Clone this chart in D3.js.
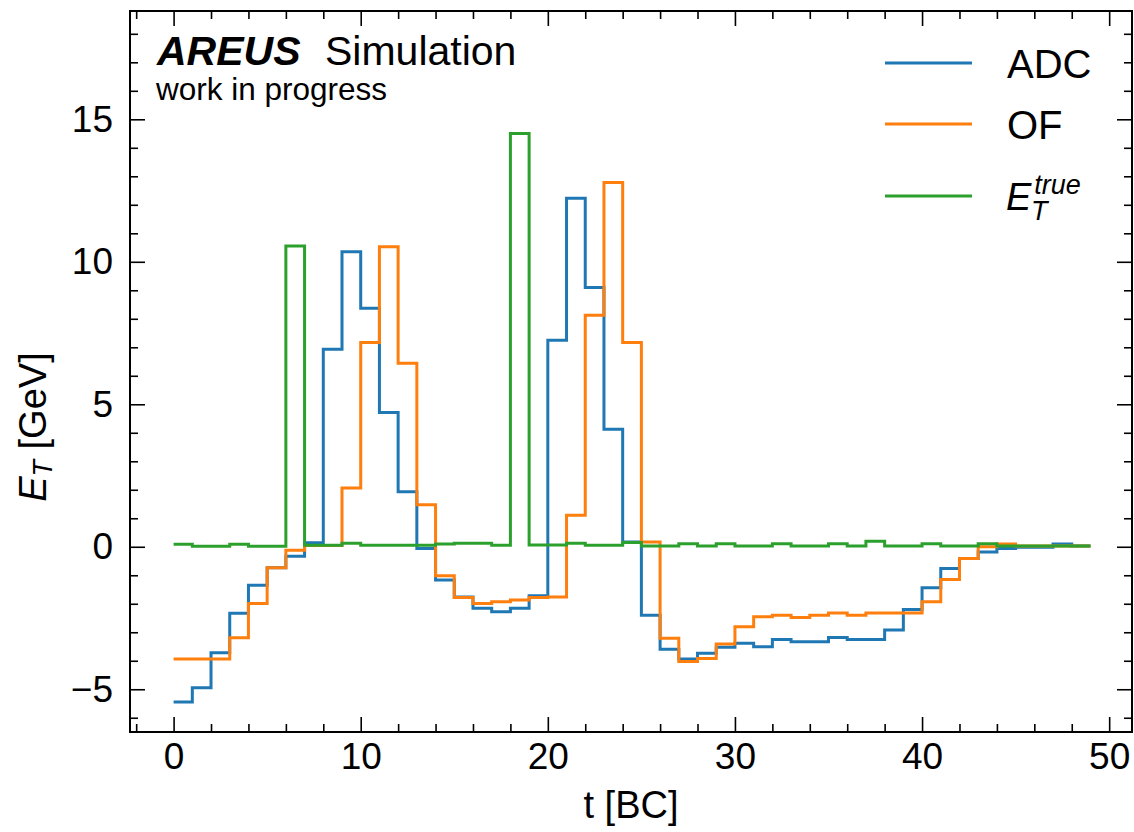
<!DOCTYPE html>
<html>
<head>
<meta charset="utf-8">
<script src="https://cdn.jsdelivr.net/npm/d3@7"></script>
<style>
  body { margin: 0; background: #fff; }
  svg { display: block; font-family: "Liberation Sans", Arial, sans-serif; }
</style>
</head>
<body>
<div id="chart"></div>
<script>
// bunch crossings
const bc = d3.range(0, 50);

const adc = [
  -5.45, -4.95, -3.72, -2.33, -1.35, -0.74, -0.33, 0.14, 6.93, 10.35,
  8.37, 4.71, 1.93, -0.06, -1.17, -1.76, -2.16, -2.28, -2.16, -1.72,
  7.25, 12.23, 9.1, 4.12, 0.17, -2.4, -3.6, -3.94, -3.74, -3.53,
  -3.39, -3.51, -3.25, -3.33, -3.33, -3.18, -3.25, -3.25, -2.92, -2.2,
  -1.44, -0.76, -0.41, -0.18, -0.06, -0.02, -0.02, 0.1, 0.03, 0.03
];

const of = [
  -3.94, -3.94, -3.94, -3.19, -1.99, -0.74, -0.12, 0.04, 0.04, 2.06,
  7.17, 10.53, 6.44, 1.47, -1.02, -1.78, -1.99, -1.93, -1.87, -1.78,
  -1.76, 1.11, 8.12, 12.78, 7.17, 0.17, -3.21, -4.03, -3.92, -3.41,
  -2.81, -2.46, -2.4, -2.48, -2.4, -2.32, -2.4, -2.32, -2.32, -2.32,
  -1.93, -1.15, -0.41, 0.0, 0.1, 0.03, 0.03, 0.03, 0.03, 0.03
];

const etrue = [
  0.09, 0.02, 0.02, 0.09, 0.02, 0.02, 10.55, 0.05, 0.05, 0.12,
  0.05, 0.05, 0.05, 0.05, 0.1, 0.12, 0.12, 0.05, 14.5, 0.06,
  0.06, 0.12, 0.05, 0.05, 0.15, 0.03, 0.03, 0.11, 0.03, 0.11,
  0.03, 0.03, 0.11, 0.03, 0.03, 0.11, 0.03, 0.19, 0.03, 0.03,
  0.11, 0.03, 0.03, 0.11, 0.03, 0.03, 0.03, 0.03, 0.03, 0.03
];

const seriesNames = ['ADC', 'OF', 'E_T^true'];
const seriesColors = ['#1f77b4', '#ff7f0e', '#2ca02c'];
const xTicks = [0, 10, 20, 30, 40, 50];
const yTicks = [-5, 0, 5, 10, 15];

const width = 1134, height = 832;
const margin = { top: 11, right: 2, bottom: 100, left: 130 };
const innerW = width - margin.left - margin.right;
const innerH = height - margin.top - margin.bottom;

const svg = d3.select('#chart').append('svg')
  .attr('width', width)
  .attr('height', height);

const g = svg.append('g')
  .attr('transform', `translate(${margin.left},${margin.top})`);

const x = d3.scaleLinear().domain([-2.33, 51.22]).range([0, innerW]);
const y = d3.scaleLinear().domain([-6.5, 18.8]).range([innerH, 0]);

g.append('clipPath').attr('id', 'clip')
  .append('rect').attr('width', innerW).attr('height', innerH);

const line = d3.line()
  .x(d => x(d[0]))
  .y(d => y(d[1]))
  .curve(d3.curveStepAfter);

[adc, of, etrue].forEach((vals, i) => {
  g.append('path')
    .datum(bc.map((t, j) => [t, vals[j]]))
    .attr('clip-path', 'url(#clip)')
    .attr('fill', 'none')
    .attr('stroke', seriesColors[i])
    .attr('stroke-width', 3)
    .attr('d', line);
});

// axes, ticks pointing inwards on all four sides
const minorX = d3.range(-2, 52, 2).filter(v => v % 10 !== 0);
const minorY = d3.range(-6, 19, 1).filter(v => v % 5 !== 0);

function styleAxis(sel, labels) {
  sel.select('.domain').remove();
  sel.selectAll('line').attr('stroke', '#000').attr('stroke-width', 1.6);
  if (!labels) sel.selectAll('text').remove();
  else sel.selectAll('text').attr('font-size', 37).attr('fill', '#000');
}

g.append('g').attr('transform', `translate(0,${innerH})`)
  .call(d3.axisBottom(x).tickValues(xTicks).tickSize(-15).tickPadding(11).tickFormat(d3.format('d')))
  .call(s => styleAxis(s, true));
g.append('g').attr('transform', `translate(0,${innerH})`)
  .call(d3.axisBottom(x).tickValues(minorX).tickSize(-8))
  .call(s => styleAxis(s, false));
g.append('g')
  .call(d3.axisTop(x).tickValues(xTicks).tickSize(-15))
  .call(s => styleAxis(s, false));
g.append('g')
  .call(d3.axisTop(x).tickValues(minorX).tickSize(-8))
  .call(s => styleAxis(s, false));

g.append('g')
  .call(d3.axisLeft(y).tickValues(yTicks).tickSize(-15).tickPadding(17).tickFormat(d => d < 0 ? '\u2212' + Math.abs(d) : d))
  .call(s => styleAxis(s, true));
g.append('g')
  .call(d3.axisLeft(y).tickValues(minorY).tickSize(-8))
  .call(s => styleAxis(s, false));
g.append('g').attr('transform', `translate(${innerW},0)`)
  .call(d3.axisRight(y).tickValues(yTicks).tickSize(-15))
  .call(s => styleAxis(s, false));
g.append('g').attr('transform', `translate(${innerW},0)`)
  .call(d3.axisRight(y).tickValues(minorY).tickSize(-8))
  .call(s => styleAxis(s, false));

g.append('rect')
  .attr('width', innerW).attr('height', innerH)
  .attr('fill', 'none').attr('stroke', '#000').attr('stroke-width', 2);

// axis labels
svg.append('text')
  .attr('x', margin.left + innerW / 2).attr('y', 818)
  .attr('text-anchor', 'middle').attr('font-size', 38)
  .text('t [BC]');

const yl = svg.append('text')
  .attr('transform', `translate(46,${margin.top + y(4.2)}) rotate(-90)`)
  .attr('text-anchor', 'middle').attr('font-size', 38);
yl.append('tspan').attr('font-style', 'italic').text('E');
yl.append('tspan').attr('font-style', 'italic').attr('font-size', 27).attr('dy', 6).text('T');
yl.append('tspan').attr('dy', -6).text(' [GeV]');

// experiment label
svg.append('text').attr('x', 157).attr('y', 65)
  .attr('font-size', 41).attr('font-weight', 'bold').attr('font-style', 'italic')
  .text('AREUS');
svg.append('text').attr('x', 325).attr('y', 65)
  .attr('font-size', 41).text('Simulation');
svg.append('text').attr('x', 156).attr('y', 100)
  .attr('font-size', 31.5).text('work in progress');

// legend
const legY = [63, 124, 196];
seriesNames.forEach((name, i) => {
  svg.append('line')
    .attr('x1', 885).attr('x2', 972)
    .attr('y1', legY[i]).attr('y2', legY[i])
    .attr('stroke', seriesColors[i]).attr('stroke-width', 3);
  if (i < 2) {
    svg.append('text').attr('x', 1007).attr('y', legY[i] + 15)
      .attr('font-size', 40).text(name);
  }
});
const et = svg.append('text').attr('x', 1006).attr('y', 210)
  .attr('font-style', 'italic').attr('font-size', 38);
et.append('tspan').text('E');
et.append('tspan').attr('font-size', 27).attr('dx', 3).attr('dy', -16).text('true');
et.append('tspan').attr('font-size', 27).attr('x', 1031).attr('dy', 26).text('T');
</script>
</body>
</html>
